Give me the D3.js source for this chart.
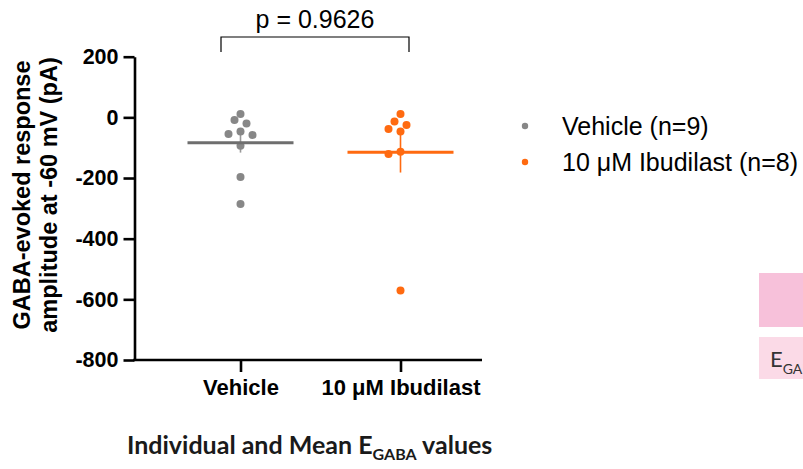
<!DOCTYPE html>
<html lang="en">
<head>
<meta charset="utf-8">
<title>GABA-evoked response</title>
<script src="https://cdn.jsdelivr.net/npm/d3@7"></script>
<style>
  body { margin: 0; background: #fff; }
  svg text { font-family: "Liberation Sans", Arial, sans-serif; }
  svg text.cal { font-family: Lato, "Open Sans", sans-serif; }
</style>
</head>
<body>
<div id="chart"></div>
<script>
// groups and values (pA)
var groups = ["Vehicle", "10 \u03bcM Ibudilast"];
var legendLabels = ["Vehicle (n=9)", "10 \u03bcM Ibudilast (n=8)"];
var vehicle = [11, -9, -20, -47, -55, -58, -94, -197, -286];
var ibudilast = [11, -14, -25, -38, -47, -113, -121, -571];
var yTicks = [200, 0, -200, -400, -600, -800];
var pText = "p = 0.9626";

var colors = ["#878787", "#ff6a10"];
var meanColors = ["#6e6e6e", "#ff6a10"];

var W = 803, H = 469;
var svg = d3.select("#chart").append("svg")
    .attr("width", W).attr("height", H);

var y = d3.scaleLinear().domain([-800, 200]).range([360, 56.7]);
var x = d3.scalePoint().domain(groups).range([240.5, 400.5]);
var axisX0 = 134.5, axisX1 = 482;

// y axis (plain hyphen for negatives, like the original)
var yAxis = svg.append("g")
    .attr("transform", "translate(" + axisX0 + ",0)")
    .call(d3.axisLeft(y).tickValues(yTicks).tickFormat(function(d) { return String(d); })
        .tickSize(11).tickPadding(5).tickSizeOuter(0));
yAxis.select(".domain").attr("stroke", "#000").attr("stroke-width", 2.6);
yAxis.selectAll(".tick line").attr("stroke", "#000").attr("stroke-width", 2.6);
yAxis.selectAll(".tick text").attr("font-size", 21.5).attr("font-weight", "bold")
    .attr("fill", "#000");

// x axis
var xAxis = svg.append("g")
    .attr("transform", "translate(0," + y(-800) + ")")
    .call(d3.axisBottom(x).tickSize(12).tickPadding(7));
xAxis.select(".domain").remove();
xAxis.selectAll(".tick line").attr("stroke", "#000").attr("stroke-width", 2.6);
xAxis.selectAll(".tick text").attr("font-size", 22).attr("font-weight", "bold")
    .attr("fill", "#000");
svg.append("line")
    .attr("x1", axisX0 - 1.3).attr("x2", axisX1)
    .attr("y1", y(-800)).attr("y2", y(-800))
    .attr("stroke", "#000").attr("stroke-width", 2.6);

// y title
var yt = svg.append("text")
    .attr("transform", "translate(0," + 195 + ") rotate(-90)")
    .attr("text-anchor", "middle").attr("font-size", 23.5).attr("font-weight", "bold");
yt.append("tspan").attr("x", 0).attr("y", 30).text("GABA-evoked response");
yt.append("tspan").attr("x", 0).attr("y", 57).text("amplitude at -60 mV (pA)");

// simple beeswarm: top to bottom, nearest free slot
function swarm(vals, cx) {
  var placed = [];
  var order = vals.map(function(v, i) { return i; })
      .sort(function(a, b) { return vals[b] - vals[a]; });
  var cands = [0, -6, 6, -12, 12, -18, 18, -24, 24];
  order.forEach(function(i) {
    var py = y(vals[i]);
    for (var k = 0; k < cands.length; k++) {
      var px = cx + cands[k];
      var ok = placed.every(function(p) {
        return Math.hypot(p.x - px, p.y - py) >= 8;
      });
      if (ok) { placed.push({x: px, y: py, v: vals[i]}); break; }
    }
  });
  return placed;
}

[vehicle, ibudilast].forEach(function(vals, gi) {
  var cx = x(groups[gi]);
  var m = d3.mean(vals);
  var sem = d3.deviation(vals) / Math.sqrt(vals.length);

  // SEM bar
  svg.append("line")
      .attr("x1", cx).attr("x2", cx)
      .attr("y1", y(m + sem)).attr("y2", y(m - sem))
      .attr("stroke", meanColors[gi]).attr("stroke-width", 1.6)
      .attr("opacity", gi === 0 ? 0.7 : 1);

  svg.selectAll(".pt" + gi)
    .data(swarm(vals, cx))
    .enter().append("circle")
      .attr("class", "pt" + gi)
      .attr("cx", function(d) { return d.x; })
      .attr("cy", function(d) { return d.y; })
      .attr("r", 4)
      .attr("fill", colors[gi]);

  // mean line
  svg.append("line")
      .attr("x1", cx - 53).attr("x2", cx + 53)
      .attr("y1", y(m)).attr("y2", y(m))
      .attr("stroke", meanColors[gi]).attr("stroke-width", 3);
});

// significance bracket
var bx0 = 221, bx1 = 409, by = 37;
svg.append("path")
    .attr("d", "M" + bx0 + "," + (by + 15) + "V" + by + "H" + bx1 + "V" + (by + 15))
    .attr("fill", "none").attr("stroke", "#000").attr("stroke-width", 1.2);
svg.append("text")
    .attr("x", (bx0 + bx1) / 2).attr("y", 28)
    .attr("text-anchor", "middle").attr("font-size", 25).text(pText);

// legend
var lg = svg.append("g").attr("transform", "translate(525,126)");
legendLabels.forEach(function(t, i) {
  lg.append("circle").attr("cx", 0).attr("cy", i * 36).attr("r", 3.2).attr("fill", colors[i]);
  lg.append("text").attr("x", 37).attr("y", i * 36 + 9)
      .attr("font-size", 25).attr("fill", "#000").text(t);
});

// bottom caption
var cap = svg.append("text").attr("class", "cal")
    .attr("x", 127).attr("y", 454)
    .attr("font-size", 25).attr("font-weight", "bold").attr("fill", "#1a1a1a");
cap.append("tspan").text("Individual and Mean E");
cap.append("tspan").attr("font-size", 16).attr("dy", 6).text("GABA");
cap.append("tspan").attr("dy", -6).text(" values");

// cropped side panels
svg.append("rect").attr("x", 759).attr("y", 273).attr("width", 50).attr("height", 54)
    .attr("fill", "#f7c1da");
svg.append("rect").attr("x", 759).attr("y", 337).attr("width", 50).attr("height", 42)
    .attr("fill", "#fbdae7");
var e = svg.append("text").attr("class", "cal").attr("x", 770).attr("y", 367)
    .attr("font-size", 22).attr("fill", "#333");
e.append("tspan").text("E");
e.append("tspan").attr("font-size", 14).attr("dy", 7).text("GABA");
</script>
</body>
</html>
